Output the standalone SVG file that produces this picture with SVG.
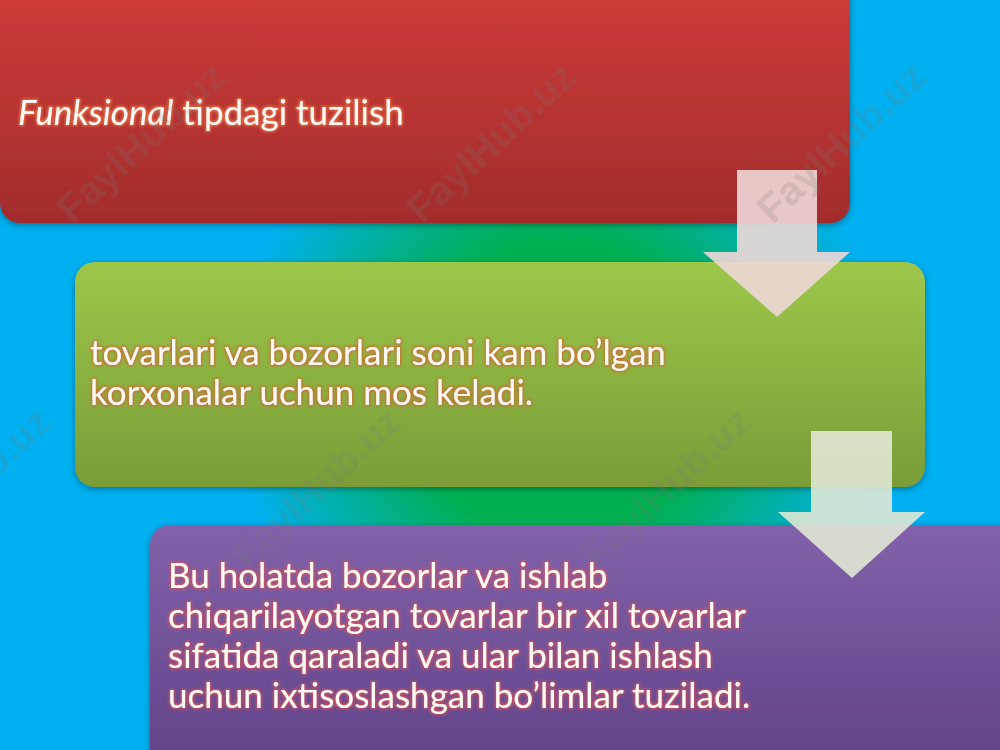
<svg xmlns="http://www.w3.org/2000/svg" width="1000" height="750" viewBox="0 0 1000 750">
  <defs>
    <radialGradient id="bg" gradientUnits="userSpaceOnUse" cx="560" cy="390" r="420">
      <stop offset="0" stop-color="#00b050"/>
      <stop offset="0.35" stop-color="#00b050"/>
      <stop offset="0.78" stop-color="#00b0f0"/>
      <stop offset="1" stop-color="#00b0f0"/>
    </radialGradient>
    <linearGradient id="gRed" x1="0" y1="0" x2="0" y2="1">
      <stop offset="0" stop-color="#d03c3a"/>
      <stop offset="1" stop-color="#a22c2c"/>
    </linearGradient>
    <linearGradient id="gGreen" x1="0" y1="0" x2="0" y2="1">
      <stop offset="0" stop-color="#9dc74a"/>
      <stop offset="1" stop-color="#7a9c38"/>
    </linearGradient>
    <linearGradient id="gPurple" x1="0" y1="0" x2="0" y2="1">
      <stop offset="0" stop-color="#8162aa"/>
      <stop offset="1" stop-color="#5f4288"/>
    </linearGradient>
    <filter id="shadow" x="-5%" y="-5%" width="110%" height="115%">
      <feDropShadow dx="0" dy="2" stdDeviation="3" flood-color="#000" flood-opacity="0.35"/>
    </filter>
    <filter id="glowR" x="-10%" y="-30%" width="120%" height="160%">
      <feMorphology in="SourceAlpha" operator="dilate" radius="1" result="d"/>
      <feGaussianBlur in="d" stdDeviation="1.8" result="b"/>
      <feFlood flood-color="#f07a4a" flood-opacity="0.9"/>
      <feComposite in2="b" operator="in" result="g"/>
      <feMerge><feMergeNode in="g"/><feMergeNode in="SourceGraphic"/></feMerge>
    </filter>
    <filter id="glowG" x="-10%" y="-30%" width="120%" height="160%">
      <feMorphology in="SourceAlpha" operator="dilate" radius="1" result="d"/>
      <feGaussianBlur in="d" stdDeviation="1.8" result="b"/>
      <feFlood flood-color="#d0682c" flood-opacity="0.95"/>
      <feComposite in2="b" operator="in" result="g"/>
      <feMerge><feMergeNode in="g"/><feMergeNode in="SourceGraphic"/></feMerge>
    </filter>
    <filter id="glowP" x="-10%" y="-30%" width="120%" height="160%">
      <feMorphology in="SourceAlpha" operator="dilate" radius="1" result="d"/>
      <feGaussianBlur in="d" stdDeviation="1.8" result="b"/>
      <feFlood flood-color="#d8505a" flood-opacity="0.95"/>
      <feComposite in2="b" operator="in" result="g"/>
      <feMerge><feMergeNode in="g"/><feMergeNode in="SourceGraphic"/></feMerge>
    </filter>
  </defs>
  <style>
    .t { font-family: Lato, "Liberation Sans", sans-serif; font-size: 35px; fill: #fffaf3; }
    .wm { font-family: "Liberation Sans", Arial, sans-serif; font-weight: bold; font-size: 40px; fill: #7a7a7a; fill-opacity: 0.2; }
  </style>

  <rect x="0" y="0" width="1000" height="750" fill="url(#bg)"/>

  <g id="node1">
    <rect x="0" y="-20" width="850" height="243" rx="20" fill="url(#gRed)" filter="url(#shadow)"/>
    <text class="t" x="18" y="125" filter="url(#glowR)"><tspan font-style="italic">Funksional</tspan> tipdagi tuzilish</text>
  </g>

  <g id="node2">
    <rect x="75" y="262" width="850" height="225" rx="20" fill="url(#gGreen)" filter="url(#shadow)"/>
    <text class="t" filter="url(#glowG)">
      <tspan x="90" y="365">tovarlari va bozorlari soni kam bo’lgan</tspan>
      <tspan x="90" y="405">korxonalar uchun mos keladi.</tspan>
    </text>
  </g>

  <g id="node3">
    <rect x="150" y="525" width="870" height="245" rx="20" fill="url(#gPurple)" filter="url(#shadow)"/>
    <text class="t" filter="url(#glowP)">
      <tspan x="168" y="588">Bu holatda bozorlar va ishlab</tspan>
      <tspan x="168" y="628">chiqarilayotgan tovarlar bir xil tovarlar</tspan>
      <tspan x="168" y="668">sifatida qaraladi va ular bilan ishlash</tspan>
      <tspan x="168" y="708">uchun ixtisoslashgan bo’limlar tuziladi.</tspan>
    </text>
  </g>

  <g id="connectors">
    <polygon points="737,170 817,170 817,252 850,252 777,317 703,252 737,252" fill="#eed8d8" fill-opacity="0.9"/>
    <polygon points="811,431 892,431 892,512 925,512 852,578 778,512 811,512" fill="#e0e8d4" fill-opacity="0.9"/>
  </g>

  <g id="watermarks">
    <text class="wm" text-anchor="middle" transform="translate(141,142) rotate(-43)" dy="14">FaylHub.uz</text>
    <text class="wm" text-anchor="middle" transform="translate(491,142) rotate(-43)" dy="14">FaylHub.uz</text>
    <text class="wm" text-anchor="middle" transform="translate(841,142) rotate(-43)" dy="14">FaylHub.uz</text>
    <text class="wm" text-anchor="middle" transform="translate(-34,487) rotate(-43)" dy="14">FaylHub.uz</text>
    <text class="wm" text-anchor="middle" transform="translate(316,487) rotate(-43)" dy="14">FaylHub.uz</text>
    <text class="wm" text-anchor="middle" transform="translate(666,487) rotate(-43)" dy="14">FaylHub.uz</text>
  </g>
</svg>
